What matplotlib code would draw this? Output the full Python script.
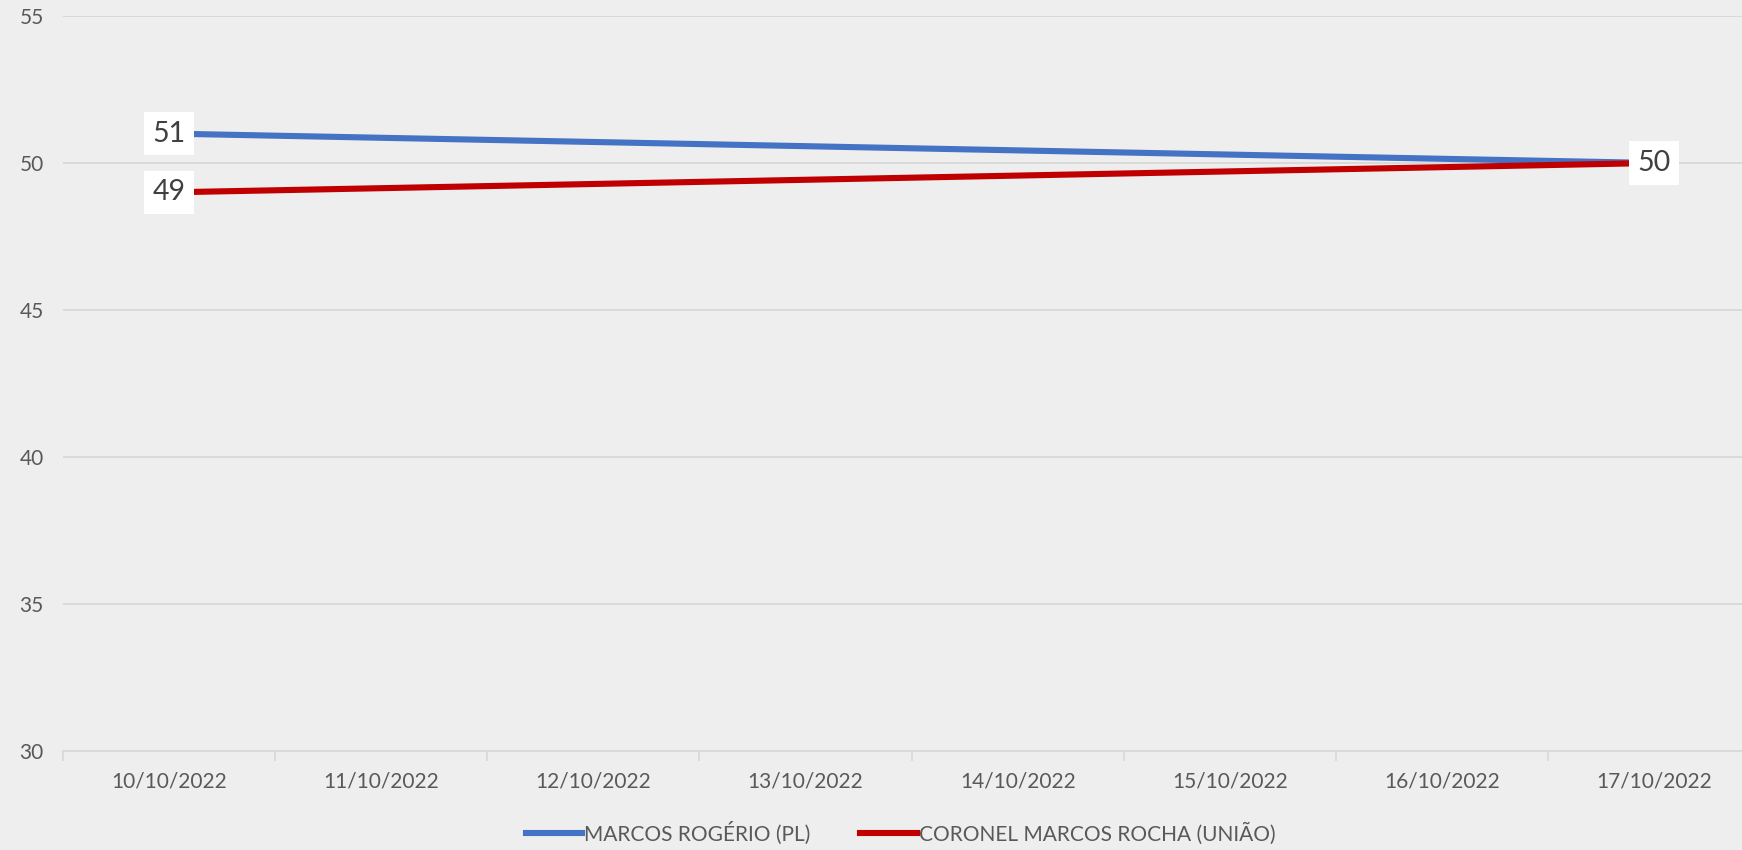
import numpy as np
import matplotlib.pyplot as plt
from matplotlib.lines import Line2D

dates = ["10/10/2022", "11/10/2022", "12/10/2022", "13/10/2022",
         "14/10/2022", "15/10/2022", "16/10/2022", "17/10/2022"]
rogerio = [51, np.nan, np.nan, np.nan, np.nan, np.nan, np.nan, 50]
rocha = [49, np.nan, np.nan, np.nan, np.nan, np.nan, np.nan, 50]
series_names = ["MARCOS ROGÉRIO (PL)", "CORONEL MARCOS ROCHA (UNIÃO)"]
y_ticks = [30, 35, 40, 45, 50, 55]

plt.rcParams["font.family"] = ["Lato", "DejaVu Sans"]
txt_color = "#595959"
grid_color = "#D9D9D9"
colors = ["#4472C4", "#C00000"]

fig = plt.figure(figsize=(17.42, 8.5), dpi=100)
fig.patch.set_facecolor("#EEEEEE")
ax = fig.add_axes([0.0362, 0.1165, 0.9742, 0.8647])
ax.set_facecolor("none")

x = np.arange(len(dates))
for vals, color in zip([rogerio, rocha], colors):
    vals = np.array(vals, dtype=float)
    ok = ~np.isnan(vals)
    ax.plot(x[ok], vals[ok], color=color, lw=4.4, solid_capstyle="butt", zorder=3)

# data labels (shared value at the end only drawn once)
done = set()
for vals in [rogerio, rocha]:
    for xi, v in zip(x, vals):
        if np.isnan(v) or (xi, v) in done:
            continue
        done.add((xi, v))
        ax.text(xi, v, f"{v:.0f}", ha="center", va="center", fontsize=20.5,
                color="#404040", zorder=5,
                bbox=dict(boxstyle="square,pad=0.3", fc="white", ec="none"))

ax.set_xlim(-0.5, len(dates) - 0.5)
ax.set_ylim(30, 55)
ax.set_yticks(y_ticks)
ax.set_xticks(x)
ax.set_xticklabels(dates)
ax.set_xticks(np.arange(len(dates) + 1) - 0.5, minor=True)
ax.tick_params(axis="x", which="major", length=0, pad=15, labelsize=15,
               labelcolor=txt_color)
ax.tick_params(axis="x", which="minor", length=7, width=1.3, color=grid_color)
ax.tick_params(axis="y", length=0, pad=14, labelsize=15, labelcolor=txt_color)

ax.grid(axis="y", color=grid_color, lw=1.4, zorder=0)
for side in ["top", "right", "left"]:
    ax.spines[side].set_visible(False)
ax.spines["bottom"].set_color(grid_color)
ax.spines["bottom"].set_linewidth(1.4)

handles = [Line2D([], [], color=c, lw=4.4) for c in colors]
fig.legend(handles, series_names, loc="center", bbox_to_anchor=(0.517, 0.02),
           ncol=2, frameon=False, fontsize=15, labelcolor=txt_color,
           handlelength=2.7, handletextpad=0.1, columnspacing=2.4)

fig.savefig("out.png", dpi=100, facecolor=fig.get_facecolor())
